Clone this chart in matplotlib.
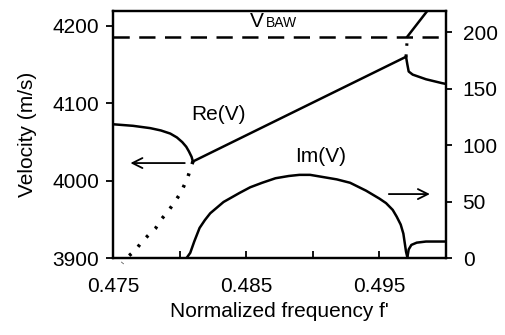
import numpy as np
import matplotlib
matplotlib.use("Agg")
import matplotlib.pyplot as plt
from matplotlib.ticker import FixedLocator

plt.rcParams["font.family"] = ["Liberation Sans", "DejaVu Sans"]
plt.rcParams["font.size"] = 15

# Re(V), left axis (m/s)
re_left_f = [0.4750, 0.4765, 0.4778, 0.4786, 0.4793, 0.4798, 0.4802, 0.4805, 0.4807, 0.4809, 0.4810]
re_left_v = [4073, 4071, 4068, 4065, 4061, 4056, 4050, 4044, 4038, 4031, 4025]
re_dot_f = [0.4810, 0.4806, 0.4801, 0.4796, 0.4791, 0.4786, 0.4782, 0.4776, 0.4771, 0.4767, 0.4761, 0.4757]
re_dot_v = [4025, 4004, 3985, 3972, 3960, 3950, 3939, 3929, 3920, 3911, 3902, 3894]
re_mid_f = [0.4810, 0.4970]
re_mid_v = [4025, 4160]
re_right_f = [0.4970, 0.4971, 0.4972, 0.4975, 0.4985, 0.4997, 0.5000]
re_right_v = [4160, 4150, 4141, 4137, 4131, 4126, 4125]
re_gap_f = [0.4970, 0.4971]
re_gap_v = [4160, 4186]
re_up_f = [0.4971, 0.4990]
re_up_v = [4186, 4228]
v_baw = 4186

# Im(V), right axis
im_f = [0.4750, 0.4805, 0.4808, 0.4811, 0.4815, 0.4819, 0.4823, 0.4828, 0.4833, 0.4839,
        0.4845, 0.4853, 0.4862, 0.4872, 0.4882, 0.4890, 0.4898, 0.4908, 0.4918, 0.4928,
        0.4940, 0.4950, 0.4955, 0.4960, 0.4963, 0.4966, 0.4968, 0.4969, 0.4970, 0.4971]
im_v = [0, 0, 5, 15, 27, 34, 40, 45, 50, 54,
        58, 63, 67, 71, 73, 74, 74, 72, 70, 67,
        60, 53, 49, 43, 37, 30, 22, 14, 6, 1]
im_tail_f = [0.4971, 0.4972, 0.4974, 0.4978, 0.4985, 0.4993, 0.5000]
im_tail_v = [1, 8, 12, 14, 15, 15, 15]

fig = plt.figure(figsize=(5.06, 3.35), dpi=100)
ax = fig.add_axes([0.2233, 0.2284, 0.6581, 0.7388])
ax2 = ax.twinx()

lw = 1.8
ax.plot(re_left_f, re_left_v, color="black", lw=lw)
ax.plot(re_dot_f, re_dot_v, color="black", lw=2.5, linestyle=(0, (0.8, 2.8)), clip_on=False)
ax.plot(re_mid_f, re_mid_v, color="black", lw=lw)
ax.plot(re_right_f, re_right_v, color="black", lw=lw)
ax.plot(re_gap_f, re_gap_v, color="black", lw=2.2, linestyle=(0, (0.8, 2.8)))
ax.plot(re_up_f, re_up_v, color="black", lw=lw)
ax.axhline(v_baw, color="black", lw=lw, dashes=(6.5, 3.8))

ax2.plot(im_f, im_v, color="black", lw=lw)
ax2.plot(im_tail_f, im_tail_v, color="black", lw=lw)

ax.set_xlim(0.475, 0.5)
ax.set_ylim(3900, 4219)
ax2.set_ylim(0, 219)

ax.xaxis.set_major_locator(FixedLocator([0.475, 0.485, 0.495]))
ax.xaxis.set_minor_locator(FixedLocator([0.48, 0.49]))
ax.set_xticklabels(["0.475", "0.485", "0.495"])
ax.set_yticks([3900, 4000, 4100, 4200])
ax2.set_yticks([0, 50, 100, 150, 200])

ax.tick_params(axis="x", which="both", direction="in", length=5, width=1.3, pad=13, top=False)
ax.tick_params(axis="y", direction="out", length=5, width=1.3, pad=5)
ax2.tick_params(axis="y", direction="out", length=4, width=1.3, pad=8)
for a in (ax, ax2):
    for s in a.spines.values():
        s.set_linewidth(1.6)

ax.set_xlabel("Normalized frequency f'", labelpad=5)
ax.set_ylabel("Velocity (m/s)", labelpad=11)

ax.text(0.4829, 4085, "Re(V)", ha="center", va="center")
ax.text(0.4853, 4198, "V", ha="left", va="baseline")
ax.text(0.48645, 4198, "BAW", ha="left", va="baseline", fontsize=10)
ax2.text(0.4906, 90, "Im(V)", ha="center", va="center")

ax.annotate("", xy=(0.4761, 4023), xytext=(0.4806, 4023),
            arrowprops=dict(arrowstyle="->", lw=1.3, color="black", mutation_scale=18))
ax2.annotate("", xy=(0.4990, 57), xytext=(0.4955, 57),
             arrowprops=dict(arrowstyle="->", lw=1.3, color="black", mutation_scale=18))

fig.savefig("out.png", dpi=100)
